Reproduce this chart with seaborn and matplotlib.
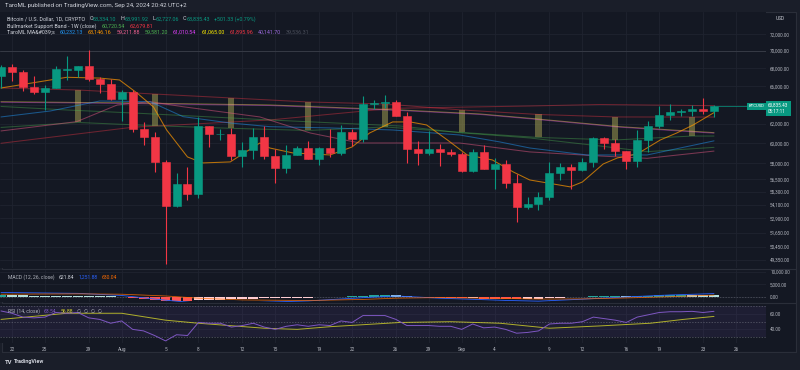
import numpy as np
import pandas as pd
import matplotlib
matplotlib.use("Agg")
import matplotlib.pyplot as plt
import matplotlib.dates as mdates
from matplotlib.lines import Line2D
from matplotlib.patches import Rectangle
from matplotlib.ticker import FixedLocator, NullLocator
import seaborn as sns

# === DATA ===
START = pd.Timestamp("2024-07-21")

opens = [67150, 68170, 67580, 65930, 65370, 65780, 67830, 67850, 68250, 66780, 66190,
         64620, 65350, 61450, 60650, 58100, 53990, 56030, 55120, 61710, 60880, 60940,
         58710, 59350, 60610, 58740, 57560, 58870, 59480, 58450, 59500, 59010, 61170,
         60380, 64100, 64180, 64250, 62830, 59420, 59030, 59370, 59120, 58970, 57300,
         59130, 57480, 57970, 56160, 53950, 54160, 54880, 57050, 57650, 57340, 58130,
         60570, 60000, 59190, 58210, 60310, 61760, 62940, 63200, 63350, 63580, 63334.10]
highs = [68380, 68480, 67800, 67100, 66130, 68230, 69390, 68320, 70080, 66990, 66810,
         65590, 65590, 62150, 61100, 58300, 57050, 57700, 62730, 61750, 61460, 61500,
         60100, 61570, 61800, 59400, 59830, 59690, 60260, 59620, 61400, 61820, 61420,
         64950, 64480, 65000, 64480, 63230, 60230, 61190, 59880, 59440, 59080, 59430,
         59820, 58520, 58310, 56990, 54840, 55300, 58120, 58040, 57990, 58580, 60670,
         60610, 60390, 59210, 61320, 62300, 63850, 64100, 63550, 64000, 64720, 63991.92]
lows = [65790, 66580, 65450, 65110, 63440, 65750, 66700, 67050, 66520, 65300, 64530,
        62260, 61130, 59800, 57200, 49050, 53960, 54560, 54730, 59590, 60290, 58300,
        57690, 58410, 58450, 56140, 57110, 58790, 58420, 57860, 58590, 58810, 59710,
        60100, 63560, 63600, 62800, 58030, 57860, 58790, 57720, 58730, 57200, 57130,
        57420, 55620, 55660, 52550, 53740, 53640, 54590, 56400, 55570, 57320, 57630,
        59450, 58700, 57490, 57610, 59170, 61580, 62360, 62770, 62780, 62970, 62727.06]
closes = [68170, 67580, 65930, 65370, 65780, 67910, 67900, 68250, 66780, 66190, 64620,
          65350, 61450, 60650, 58100, 53990, 56030, 55120, 61710, 60880, 60940, 58710,
          59350, 60610, 58740, 57560, 58870, 59480, 58450, 59500, 59010, 61170, 60380,
          64100, 64180, 64250, 62830, 59420, 59030, 59370, 59120, 58970, 57300, 59130,
          57480, 57970, 56160, 53950, 54160, 54880, 57050, 57650, 57340, 58130, 60570,
          60000, 59190, 58210, 60310, 61760, 62940, 63200, 63350, 63580, 63340, 63835.43]

# moving averages, sampled points (day offset from START, price)
orange_days = [0, 4.5, 6, 9, 10.8, 12.4, 13.9, 15.1, 17, 18.4, 20.9, 23.6, 24.5, 26.6, 30,
               32, 33.6, 35.7, 37.3, 38.8, 40.7, 42.5, 44.8, 46.7, 48.2, 49.8, 51.9, 53,
               54.9, 56.2, 58, 60.1, 61.6, 63.1, 65]
orange_vals = [65800, 66690, 66990, 66900, 66690, 65250, 63745, 61340, 58635, 58050, 58150,
               60020, 59520, 59030, 58830, 59620, 61030, 62170, 62170, 61855, 60320, 58830,
               58340, 57180, 56420, 56140, 55770, 56230, 57950, 58540, 58930, 60320, 61030,
               61855, 63146.16]
blue_days = [0, 4.5, 9, 13.6, 16.6, 20.9, 24.5, 30, 35.7, 41.8, 45.5, 48.2, 53.4, 58.9, 65]
blue_vals = [62690, 63320, 64385, 64310, 62720, 62060, 61680, 61550, 61340, 60830, 60120,
             59520, 58830, 58830, 60232.13]
pink_days = [0, 6.9, 10.6, 13.6, 16.6, 23.6, 28.2, 32.7, 41.8, 48.2, 54.6, 58.9, 65]
pink_vals = [61240, 62200, 63960, 64310, 63770, 62690, 61030, 60020, 60020, 59130, 58730,
             58500, 59211.88]
green_days = [0, 6, 12, 24.5, 36.4, 41.8, 48.2, 54.6, 58.9, 65]
green_vals = [63800, 63425, 63110, 62375, 61750, 61065, 60525, 59720, 59155, 59581.20]
yellow_days = [0, 12.2, 24.5, 36.4, 43.7, 48.2, 56.4, 65]
yellow_vals = [64310, 64170, 63960, 63425, 63000, 62550, 61680, 61065.00]
magenta_vals = [64250, 64110, 63900, 63370, 62950, 62500, 61630, 61010.54]
red_days = [0, 12, 24.5, 35.7, 48.2, 54.6, 65]
red_vals = [59990, 61620, 62375, 63600, 63850, 64010, 63880]

# bull market support band (weekly)
band_days = [0, 7, 14, 21, 28, 35, 42, 49, 56, 63, 65]
band_red = [65800, 65580, 65140, 64710, 64280, 64065, 63425, 62950, 62690, 62680, 62679.81]
band_green = [61600, 62115, 61780, 61510, 61290, 61650, 61085, 60575, 60325, 60720, 60720.54]

# MACD histogram (one per day) and lines (sampled)
macd_hist = [700, 650, 560, 470, 400, 360, 330, 300, 260, 200, 120, -60, -450, -800,
             -1150, -1550, -1650, -1800, -1500, -1300, -1150, -1050, -950, -800, -700,
             -600, -500, -400, -330, -250, -150, 50, 120, 450, 620, 700, 640, 150, -250,
             -380, -480, -560, -700, -680, -750, -760, -820, -950, -900, -780, -550, -350,
             -220, -60, 200, 320, 340, 300, 380, 480, 600, 680, 720, 700, 660, 621.84]
macd_days = [0, 7, 11, 15, 18, 22, 28, 33, 36, 40, 46, 49, 53, 57, 61, 65]
macd_line = [1700, 1350, 500, -1400, -2600, -2500, -1700, -400, 300, -600, -1500, -1800,
             -1000, -100, 700, 1251.88]
signal_line = [1000, 1150, 1000, 300, -600, -1300, -1550, -1100, -600, -350, -700, -950,
               -900, -500, 0, 630.04]

# RSI (one per day) and its MA (sampled)
rsi_vals = [64, 61, 56, 55, 56, 62, 61, 62, 55, 53, 48, 51, 40, 38, 32, 25, 33, 32, 49, 48,
            48, 43, 45, 48, 43, 40, 44, 46, 44, 46, 45, 51, 49, 58, 58, 58, 53, 45, 45, 45,
            44, 44, 40, 47, 42, 43, 40, 35, 36, 38, 47, 48, 48, 50, 56, 54, 52, 49, 56, 59,
            62, 63, 63, 63.5, 62, 63.54]
rsi_ma_days = [0, 6, 11, 15, 18, 24, 27, 30, 36.4, 41, 45.5, 50, 54.6, 59.2, 62.2, 65]
rsi_ma_vals = [53, 61, 61, 52, 48, 41.5, 40, 43.5, 49, 50, 48, 41.5, 44.5, 48, 53, 56.88]

price_ticks = [49350, 50450, 51650, 52900, 54100, 55300, 56500, 58000, 60000, 62000,
               64000, 66000, 68000, 70000, 72000]
date_ticks = ["2024-07-22", "2024-07-25", "2024-07-29", "2024-08-01", "2024-08-05",
              "2024-08-08", "2024-08-12", "2024-08-15", "2024-08-19", "2024-08-22",
              "2024-08-26", "2024-08-29", "2024-09-01", "2024-09-04", "2024-09-09",
              "2024-09-12", "2024-09-16", "2024-09-19", "2024-09-23", "2024-09-26"]
date_labels = ["22", "25", "29", "Aug", "5", "8", "12", "15", "19", "22", "26", "29",
               "Sep", "4", "9", "12", "16", "19", "23", "26"]

# === STYLE ===
BG = "#141823"
OUTER = "#1a1e29"
GRID = "#1f2330"
BORDER = "#2a2e39"
TXT = "#b2b5be"
UP = "#089981"
DOWN = "#f23645"

sns.set_theme(style="dark", rc={
    "figure.facecolor": OUTER, "axes.facecolor": BG, "axes.edgecolor": BG,
    "grid.color": GRID, "text.color": TXT, "xtick.color": TXT, "ytick.color": TXT})
plt.rcParams["font.family"] = ["Roboto", "DejaVu Sans"]

W, H = 800, 370


def fy(py):
    return 1 - py / H


def to_dates(days):
    return START + pd.to_timedelta(np.asarray(days, dtype=float), unit="D")


fig = plt.figure(figsize=(8, 3.7), dpi=100)
fig.add_artist(Rectangle((2 / W, fy(352)), 794 / W, (352 - 12) / H,
                         transform=fig.transFigure, fc=BG, ec=BORDER, lw=0.8, zorder=0))

ax = fig.add_axes([0, fy(268), 766 / W, (268 - 12) / H])
ax_m = fig.add_axes([0, fy(302), 766 / W, (302 - 270) / H])
ax_r = fig.add_axes([0, fy(343), 766 / W, (343 - 304) / H])

dates = pd.date_range(START, periods=len(closes), freq="D")
xs = mdates.date2num(dates)
d0 = mdates.date2num(START)
xlim = (d0 - 0.091, d0 + 69.74)

# --- main pane ---
ax.set_yscale("log")
o, h, l, c = map(np.asarray, (opens, highs, lows, closes))
cols = np.where(c >= o, UP, DOWN)

# weekly band fill only shows on the bar where the weekly value lands
bx = mdates.date2num(to_dates(band_days[1:-1]))
btop = np.asarray(band_red[1:-1])
bbot = np.asarray(band_green[1:-1])
ax.bar(bx, btop - bbot, bottom=bbot, width=0.55, color="#9e9a4f", alpha=0.55,
       linewidth=0, zorder=2)

ma_lines = [
    (band_days, band_red, "#f23645", 0.4),
    (band_days, band_green, "#4caf50", 0.4),
    (red_days, red_vals, "#f23645", 0.4),
    (yellow_days, yellow_vals, "#ffeb3b", 0.4),
    (yellow_days, magenta_vals, "#e040fb", 0.35),
    (green_days, green_vals, "#4caf50", 0.4),
    (pink_days, pink_vals, "#e05780", 0.5),
    (blue_days, blue_vals, "#2196f3", 0.5),
    (orange_days, orange_vals, "#ff9800", 0.7),
]
for days, vals, color, alpha in ma_lines:
    sns.lineplot(x=to_dates(days), y=vals, ax=ax, color=color, alpha=alpha, lw=0.75,
                 zorder=3)

ax.vlines(xs, l, h, colors=cols, lw=0.8, zorder=4)
ax.bar(xs, np.maximum(o, c) - np.minimum(o, c), bottom=np.minimum(o, c), width=0.73,
       color=cols, edgecolor=cols, linewidth=0.4, zorder=5)

ax.axhline(70000, color="#363a45", lw=0.7, zorder=1)
ax.hlines(c[-1], xs[-1] + 0.4, xlim[1], color=UP, lw=0.5, zorder=4)

ax.set_ylim(48697, 74717)
ax.yaxis.set_major_locator(FixedLocator(price_ticks))
ax.yaxis.set_minor_locator(NullLocator())
ax.set_yticklabels(["" if v == 64000 else f"{v:,.2f}" for v in price_ticks])

# price tag
ax.annotate("BTCUSD", xy=(1, c[-1]), xycoords=("axes fraction", "data"),
            xytext=(-1, 0), textcoords="offset points", ha="right", va="center",
            fontsize=3.1, color="white", annotation_clip=False, zorder=10,
            bbox=dict(boxstyle="square,pad=0.35", fc=UP, ec="none"))
ax.annotate(f"{c[-1]:,.2f}\n05:17:11", xy=(1, c[-1]), xycoords=("axes fraction", "data"),
            xytext=(1.5, 2.3), textcoords="offset points", ha="left", va="top",
            fontsize=3.3, color="white", linespacing=1.3, annotation_clip=False, zorder=10,
            bbox=dict(boxstyle="square,pad=0.5", fc=UP, ec="none"))

# --- MACD pane ---
hist = np.asarray(macd_hist, dtype=float)
prev = np.r_[hist[0], hist[:-1]]
hcols = np.where(hist >= 0, np.where(hist >= prev, "#26a69a", "#b2dfdb"),
                 np.where(hist < prev, "#ff5252", "#ffcdd2"))
ax_m.bar(xs, hist, width=0.9, color=hcols, linewidth=0, zorder=2)
sns.lineplot(x=to_dates(macd_days), y=macd_line, ax=ax_m, color="#2962ff", lw=0.6, zorder=3)
sns.lineplot(x=to_dates(macd_days), y=signal_line, ax=ax_m, color="#ff6d00", lw=0.6,
             alpha=0.8, zorder=3)
ax_m.axhline(0, color="#787b86", lw=0.5, ls=(0, (2, 2)), alpha=0.6, zorder=1)
ax_m.set_ylim(-2137, 10765)
ax_m.set_yticks([0, 5000, 10000])
ax_m.set_yticklabels(["0.00", "5,000.00", "10,000.00"])

# --- RSI pane ---
ax_r.axhspan(30, 70, color="#7e57c2", alpha=0.1, lw=0, zorder=1)
for lvl in (30, 50, 70):
    ax_r.axhline(lvl, color="#787b86", lw=0.5, ls=(0, (2, 2)), alpha=0.7, zorder=2)
sns.lineplot(x=to_dates(rsi_ma_days), y=rsi_ma_vals, ax=ax_r, color="#d4d42a", lw=0.7,
             alpha=0.8, zorder=3)
sns.lineplot(x=dates, y=rsi_vals, ax=ax_r, color="#7e57c2", lw=0.7, zorder=4)
ax_r.set_ylim(22.23, 73.08)
ax_r.set_yticks([40, 60])
ax_r.set_yticklabels(["40.00", "60.00"])

# --- shared axis cosmetics ---
tick_x = mdates.date2num(pd.to_datetime(date_ticks))
for a in (ax, ax_m, ax_r):
    a.set_xlim(*xlim)
    a.set_xticks(tick_x)
    a.set_xlabel("")
    a.set_ylabel("")
    a.yaxis.tick_right()
    a.tick_params(axis="y", length=0, pad=3, labelsize=3.3, labelcolor=TXT)
    a.tick_params(axis="x", length=0, pad=2.6, labelsize=3.4, labelcolor=TXT)
    a.grid(True, color=GRID, lw=0.6)
    a.set_axisbelow(True)
    for s in a.spines.values():
        s.set_visible(False)
    if a.get_legend() is not None:
        a.get_legend().remove()
ax.set_xticklabels([])
ax_m.set_xticklabels([])
ax_r.set_xticklabels(date_labels)

# pane separators
for py in (269, 303, 352):
    fig.add_artist(Line2D([2 / W, 796 / W], [fy(py), fy(py)], transform=fig.transFigure,
                          color=BORDER, lw=0.8))


# --- legends / titles ---
def text_row(target, x_px, y_px, parts, size):
    prev_t = None
    for s, color, gap in parts:
        if prev_t is None:
            prev_t = target.annotate(s, xy=(x_px / W, fy(y_px)), xycoords="figure fraction",
                                     ha="left", va="center", fontsize=size, color=color,
                                     annotation_clip=False, zorder=10)
        else:
            prev_t = target.annotate(s, xy=(1, 0), xycoords=prev_t, xytext=(gap, 0),
                                     textcoords="offset points", ha="left", va="bottom",
                                     fontsize=size, color=color, annotation_clip=False,
                                     zorder=10)


fig.text(5 / W, fy(6), "TaroML published on TradingView.com, Sep 24, 2024 20:42 UTC+2",
         fontsize=4.4, color="#d1d4dc", va="center", ha="left")
fig.text(776 / W, fy(19), "USD", fontsize=3.4, color="#d1d4dc", va="center", ha="left")

text_row(ax, 7, 19, [("Bitcoin / U.S. Dollar, 1D, CRYPTO", "#d1d4dc", 0),
                     ("O", "#d1d4dc", 3), ("63,334.10", UP, 0),
                     ("H", "#d1d4dc", 3), ("63,991.92", UP, 0),
                     ("L", "#d1d4dc", 3), ("62,727.06", UP, 0),
                     ("C", "#d1d4dc", 3), ("63,835.43", UP, 0),
                     ("+501.33 (+0.79%)", UP, 3)], 3.9)
text_row(ax, 7, 25.7, [("Bullmarket Support Band - 1W (close)", "#d1d4dc", 0),
                       ("60,720.54", "#4caf50", 3.5), ("62,679.81", "#f23645", 3.5)], 3.9)
text_row(ax, 7, 32.5, [("TaroML MA&#039;s", "#d1d4dc", 0),
                       ("60,232.13", "#2196f3", 3.5), ("63,146.16", "#ff9800", 3.5),
                       ("59,211.88", "#f06292", 3.5), ("59,581.20", "#4caf50", 3.5),
                       ("61,010.54", "#e040fb", 3.5), ("61,065.00", "#fff000", 3.5),
                       ("61,895.96", "#f23645", 3.5), ("40,141.70", "#9c6ade", 3.5),
                       ("39,536.31", "#4a4e5a", 3.5)], 3.9)
text_row(ax_m, 8, 277, [("MACD (12, 26, close)", "#b2b5be", 0), ("621.84", "#d1d4dc", 3),
                        ("1,251.88", "#2962ff", 3), ("630.04", "#ff6d00", 3)], 3.6)
text_row(ax_r, 8, 310.7, [("RSI (14, close)", "#b2b5be", 0), ("63.54", "#7e57c2", 3),
                          ("56.88", "#d4d42a", 3),
                          ("\u2205  \u2205  \u2205  \u2205", "#b2b5be", 3)], 3.6)

fig.text(5 / W, fy(362), "TV", fontsize=4.2, color="#d1d4dc", weight="bold",
         va="center", ha="left")
fig.text(14 / W, fy(362), "TradingView", fontsize=3.9, color="#d1d4dc", weight="bold",
         va="center", ha="left")

fig.savefig("out.png", dpi=100, facecolor=OUTER)
